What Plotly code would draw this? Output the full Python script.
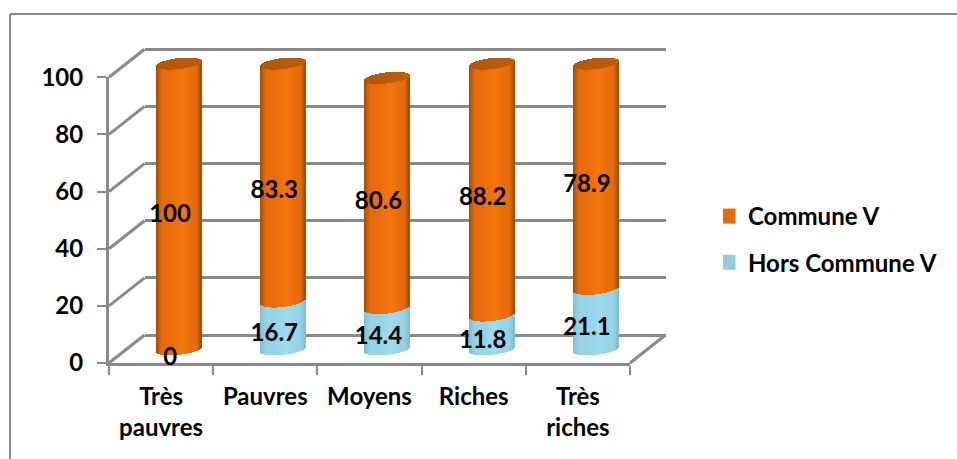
import numpy as np
import plotly.graph_objects as go

categories = ["Très<br>pauvres", "Pauvres", "Moyens", "Riches", "Très<br>riches"]
commune = [100, 83.3, 80.6, 88.2, 78.9]
hors = [0, 16.7, 14.4, 11.8, 21.1]
y_ticks = [0, 20, 40, 60, 80, 100]

W, H = 957, 459
FONT = "Lato"
GRID = "#8a8a8a"
PX_PER_UNIT = 285.7 / 100
PX_PER_CAT = 521 / 5


def px(v):
    return v / W


def py(v):
    return 1 - v / H


def xdom(left, right):
    return [px(left), px(right)]


def ydom(top, bottom):
    return [py(bottom), py(top)]


def lerp(a, b, t):
    return tuple(a[i] + (b[i] - a[i]) * t for i in range(3))


def rgb(c):
    return "rgb(%d,%d,%d)" % tuple(round(v) for v in c)


def shade(t, dark, mid, light):
    """t in [-1,1] across the cylinder"""
    e = min(1.0, (1 - abs(t)) / 0.28) if t < 0 else min(1.0, (1 - abs(t)) / 0.22)
    base = lerp(dark, mid, e ** 0.75)
    g = max(0.0, 1 - abs(t - 0.15) / 0.5)
    return rgb(lerp(base, light, g))


ORANGE = dict(dark=(150, 74, 8), mid=(232, 108, 10), light=(246, 118, 14))
BLUE = dict(dark=(128, 186, 204), mid=(148, 212, 230), light=(156, 220, 238))

half_w = 22.5 / PX_PER_CAT
ell = 5.5 / PX_PER_UNIT
tilt = 2.5 / PX_PER_UNIT
N = 45
ts = (np.arange(N) + 0.5) / N * 2 - 1
curve = ell * np.sqrt(1 - ts ** 2)
lean = tilt * ts
strip = 1.15 * 2 * half_w / N

fig = go.Figure()

# back wall with its gridlines
fig.add_trace(go.Scatter(x=[0], y=[0], mode="markers", marker=dict(opacity=0), showlegend=False, hoverinfo="skip"))

# front axes, and the legend entries
fig.add_trace(go.Scatter(x=categories, y=[None] * 5, xaxis="x2", yaxis="y2", mode="markers",
                         name="Commune V", legendgroup="a",
                         marker=dict(symbol="square", size=15, color="#e36c09")))
fig.add_trace(go.Scatter(x=categories, y=[None] * 5, xaxis="x2", yaxis="y2", mode="markers",
                         name="Hors Commune V", legendgroup="b",
                         marker=dict(symbol="square", size=15, color="#93cddd")))


def cylinder_part(bottoms, tops, pal, name, cap=False):
    xs, bases, heights, colors = [], [], [], []
    for i, (b, t) in enumerate(zip(bottoms, tops)):
        if t <= b:
            continue
        for k, tt in enumerate(ts):
            lo = b + lean[k] - curve[k]
            hi = t + lean[k] - curve[k]
            xs.append(i + tt * half_w)
            bases.append(lo)
            heights.append(hi - lo)
            colors.append(shade(tt, **pal))
    fig.add_trace(go.Bar(x=xs, y=heights, base=bases, width=strip, xaxis="x3", yaxis="y3",
                         marker=dict(color=colors, line=dict(width=0)),
                         name=name, showlegend=False, hoverinfo="skip"))


hors_arr = np.array(hors, float)
comm_arr = np.array(commune, float)
tops = hors_arr + comm_arr
cylinder_part(hors_arr, tops, ORANGE, "Commune V")
cylinder_part(np.zeros(5), hors_arr, BLUE, "Hors Commune V")

# top caps of the cylinders
cx, cb, ch, cc = [], [], [], []
for i, t in enumerate(tops):
    for k, tt in enumerate(ts):
        cx.append(i + tt * half_w)
        cb.append(t + lean[k] - curve[k])
        ch.append(2 * curve[k])
        cc.append(rgb(lerp((178, 86, 8), (190, 94, 12), (tt + 1) / 2)))
fig.add_trace(go.Bar(x=cx, y=ch, base=cb, width=strip, xaxis="x3", yaxis="y3",
                     marker=dict(color=cc, line=dict(width=0)), showlegend=False, hoverinfo="skip"))

# data labels
lab_x = list(range(5)) * 2
lab_y = list(hors_arr + comm_arr / 2) + list(hors_arr / 2)
lab_t = [str(v) for v in commune] + [str(v) for v in hors]
fig.add_trace(go.Scatter(x=lab_x, y=lab_y, text=lab_t, mode="text", xaxis="x4", yaxis="y4",
                         textposition="middle center", cliponaxis=False,
                         textfont=dict(family=FONT, size=24, color="black", weight="bold"),
                         showlegend=False, hoverinfo="skip"))

# perspective edges, worked out from the tick values
FX0, FX1, FY0 = 109, 630, 363
DX, DY = 35.5, -28
line = dict(color=GRID, width=3)
shapes = []
for v in y_ticks:
    yy = FY0 - v * PX_PER_UNIT
    shapes.append(dict(type="line", xref="paper", yref="paper", x0=px(FX0), y0=py(yy),
                       x1=px(FX0 + DX), y1=py(yy + DY), line=line))
shapes.append(dict(type="line", xref="paper", yref="paper", x0=px(FX1), y0=py(FY0),
                   x1=px(FX1 + DX), y1=py(FY0 + DY), line=line))
# outer chart frame
shapes.append(dict(type="line", xref="paper", yref="paper", x0=px(10), y0=py(14), x1=px(W), y1=py(14),
                   line=dict(color=GRID, width=2)))
shapes.append(dict(type="line", xref="paper", yref="paper", x0=px(10), y0=py(14), x1=px(10), y1=py(H),
                   line=dict(color=GRID, width=2)))

fig.update_layout(
    width=W, height=H, margin=dict(l=0, r=0, t=0, b=0, autoexpand=False),
    paper_bgcolor="white", plot_bgcolor="rgba(0,0,0,0)",
    barmode="overlay", bargap=0, shapes=shapes,
    font=dict(family=FONT, size=24, color="black", weight="bold"),
    xaxis=dict(domain=xdom(FX0 + DX, FX1 + DX), range=[0, 1], visible=False, anchor="y"),
    yaxis=dict(domain=ydom(FY0 + DY - 110 * PX_PER_UNIT, FY0 + DY + 10 * PX_PER_UNIT), range=[-10, 110],
               tickvals=y_ticks,
               showgrid=True, gridcolor=GRID, gridwidth=3, zeroline=False, showticklabels=False,
               ticks="", showline=False, anchor="x"),
    xaxis2=dict(domain=xdom(FX0, FX1), type="category", categoryorder="array", categoryarray=categories,
                range=[-0.5, 4.5], tickson="boundaries", ticks="outside", ticklen=9, tickwidth=2, tickcolor=GRID,
                showline=True, linecolor=GRID, linewidth=3, showgrid=False, anchor="y2",
                ticklabelstandoff=10,
                tickfont=dict(family=FONT, size=24, color="black", weight="bold")),
    yaxis2=dict(domain=ydom(FY0 - 100 * PX_PER_UNIT, FY0), range=[0, 100], tickvals=y_ticks,
                ticks="outside", ticklen=9, tickwidth=2, tickcolor=GRID,
                showline=True, linecolor=GRID, linewidth=3, showgrid=False, zeroline=False, anchor="x2",
                ticklabelstandoff=9,
                tickfont=dict(family=FONT, size=24, color="black", weight="bold")),
    xaxis3=dict(domain=xdom(FX0 + 17.5, FX1 + 17.5), range=[-0.5, 4.5], visible=False, anchor="y3"),
    yaxis3=dict(domain=ydom(FY0 - 13.5 - 110 * PX_PER_UNIT, FY0 - 13.5 + 10 * PX_PER_UNIT), range=[-10, 110],
                visible=False, anchor="x3"),
    xaxis4=dict(domain=xdom(FX0 + 9, FX1 + 9), range=[-0.5, 4.5], visible=False, anchor="y4"),
    yaxis4=dict(domain=ydom(FY0 - 4 - 100 * PX_PER_UNIT, FY0 - 4), range=[0, 100], visible=False, anchor="x4"),
    legend=dict(x=px(723), y=py(194), xanchor="left", yanchor="top", bgcolor="rgba(0,0,0,0)",
                traceorder="grouped", tracegroupgap=12, indentation=-15,
                font=dict(family=FONT, size=24, color="black", weight="bold")),
)

fig.write_html("out.html", config=dict(displayModeBar=False), post_script="document.body.style.margin='0';")
